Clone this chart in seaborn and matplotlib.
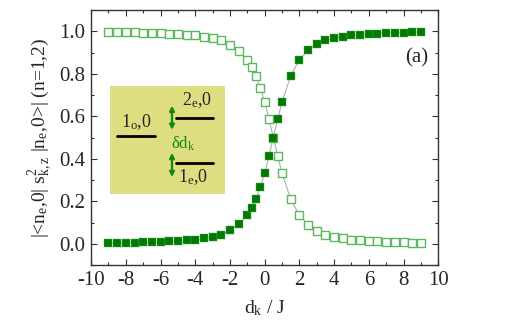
import matplotlib
matplotlib.use("Agg")
import matplotlib.pyplot as plt
from matplotlib.patches import Rectangle
from matplotlib.ticker import MultipleLocator
import seaborn as sns
import pandas as pd

# d_k / J values
d_k = [-9.0, -8.5, -8.0, -7.5, -7.0, -6.5, -6.0, -5.5, -5.0, -4.5, -4.0,
       -3.5, -3.0, -2.5, -2.0, -1.5, -1.0, -0.75, -0.5, -0.25, 0.0, 0.25,
       0.5, 0.75, 1.0, 1.5, 2.0, 2.5, 3.0, 3.5, 4.0, 4.5, 5.0, 5.5, 6.0,
       6.5, 7.0, 7.5, 8.0, 8.5, 9.0]
# filled squares (n=1)
filled = [0.004, 0.004, 0.005, 0.005, 0.007, 0.007, 0.008, 0.011, 0.012,
          0.016, 0.019, 0.025, 0.033, 0.043, 0.063, 0.091, 0.137, 0.168,
          0.209, 0.266, 0.332, 0.414, 0.500, 0.587, 0.668, 0.790, 0.866,
          0.910, 0.940, 0.957, 0.967, 0.975, 0.981, 0.984, 0.988, 0.989,
          0.992, 0.993, 0.993, 0.995, 0.997]
# open squares (n=2)
opened = [0.996, 0.996, 0.995, 0.995, 0.993, 0.993, 0.992, 0.989, 0.988,
          0.984, 0.981, 0.975, 0.967, 0.957, 0.937, 0.909, 0.863, 0.832,
          0.790, 0.734, 0.668, 0.587, 0.500, 0.414, 0.332, 0.210, 0.134,
          0.090, 0.060, 0.043, 0.033, 0.025, 0.019, 0.016, 0.012, 0.011,
          0.008, 0.007, 0.007, 0.005, 0.004]

df = pd.DataFrame({"d": d_k, "filled": filled, "open": opened})

sns.set_style("ticks")
plt.rcParams['font.family'] = ['Liberation Serif', 'DejaVu Serif']
plt.rcParams['mathtext.fontset'] = 'custom'
plt.rcParams['mathtext.rm'] = 'Liberation Serif'
plt.rcParams['mathtext.it'] = 'Liberation Serif:italic'
plt.rcParams['mathtext.default'] = 'rm'

fig = plt.figure(figsize=(5.09, 3.33), dpi=100)
ax = fig.add_axes([0.179, 0.204, 0.682, 0.766])

dark = '#007a00'
light = '#5cb85c'

sns.lineplot(data=df, x="d", y="open", ax=ax, color='#b0b0b0', lw=0.8, zorder=1)
sns.lineplot(data=df, x="d", y="filled", ax=ax, color='#b0b0b0', lw=0.8, zorder=1)
sns.scatterplot(data=df, x="d", y="open", ax=ax, marker='s', s=28,
                fc='white', ec=light, linewidth=1.0, zorder=2)
sns.scatterplot(data=df, x="d", y="filled", ax=ax, marker='s', s=30,
                color=dark, ec='#4fa84f', linewidth=0.3, zorder=3)

ax.set_xlim(-10, 10)
ax.set_ylim(-0.1, 1.1)
ax.xaxis.set_major_locator(MultipleLocator(2))
ax.xaxis.set_minor_locator(MultipleLocator(1))
ax.yaxis.set_major_locator(MultipleLocator(0.2))
ax.yaxis.set_minor_locator(MultipleLocator(0.1))
ax.xaxis.set_major_formatter(plt.FuncFormatter(lambda v, p: f"{int(round(v))}"))
ax.yaxis.set_major_formatter(plt.FuncFormatter(lambda v, p: f"{v:.1f}"))
ax.tick_params(which='both', direction='in', top=True, right=True,
               labelsize=15, color='#333333', pad=4)
ax.tick_params(which='major', length=4, width=0.8)
ax.tick_params(which='minor', length=2.5, width=0.8)
for sp in ax.spines.values():
    sp.set_linewidth(1.0)
    sp.set_color('#333333')

ax.set_xlabel(r'd$_\mathrm{k}$ / J', fontsize=14, labelpad=6)
ax.set_ylabel(r'|<n$_\mathrm{e}$,0| s$^2_\mathrm{k,z}$ |n$_\mathrm{e}$,0>| (n=1,2)',
              fontsize=14, labelpad=4)

ax.text(0.937, 0.812, '(a)', transform=ax.transAxes, fontsize=15,
        ha='center', va='center')

# inset level scheme
ax.add_patch(Rectangle((0.055, 0.278), 0.331, 0.424, transform=ax.transAxes,
                       fc='#dede80', ec='none', zorder=4))
lw_lev = 2.0
ax.plot([0.075, 0.184], [0.506, 0.506], transform=ax.transAxes, color='black', lw=lw_lev, zorder=5)
ax.plot([0.245, 0.352], [0.576, 0.576], transform=ax.transAxes, color='black', lw=lw_lev, zorder=5)
ax.plot([0.245, 0.352], [0.400, 0.400], transform=ax.transAxes, color='black', lw=lw_lev, zorder=5)
ax.text(0.13, 0.561, r'1$_\mathrm{o}$,0', transform=ax.transAxes, fontsize=13,
        ha='center', va='center', zorder=6)
ax.text(0.305, 0.647, r'2$_\mathrm{e}$,0', transform=ax.transAxes, fontsize=13,
        ha='center', va='center', zorder=6)
ax.text(0.294, 0.345, r'1$_\mathrm{e}$,0', transform=ax.transAxes, fontsize=13,
        ha='center', va='center', zorder=6)
ax.text(0.265, 0.475, r'$\delta$d$_\mathrm{k}$', transform=ax.transAxes, fontsize=12,
        ha='center', va='center', color='#118811', zorder=6)
for y0, y1 in [(0.53, 0.625), (0.345, 0.44)]:
    ax.annotate('', xy=(0.233, y0), xytext=(0.233, y1), xycoords='axes fraction',
                arrowprops=dict(arrowstyle='<|-|>', color='#118811', lw=1.6,
                                mutation_scale=7, shrinkA=0, shrinkB=0),
                zorder=6)

fig.savefig('out.png', dpi=100, facecolor='white')
